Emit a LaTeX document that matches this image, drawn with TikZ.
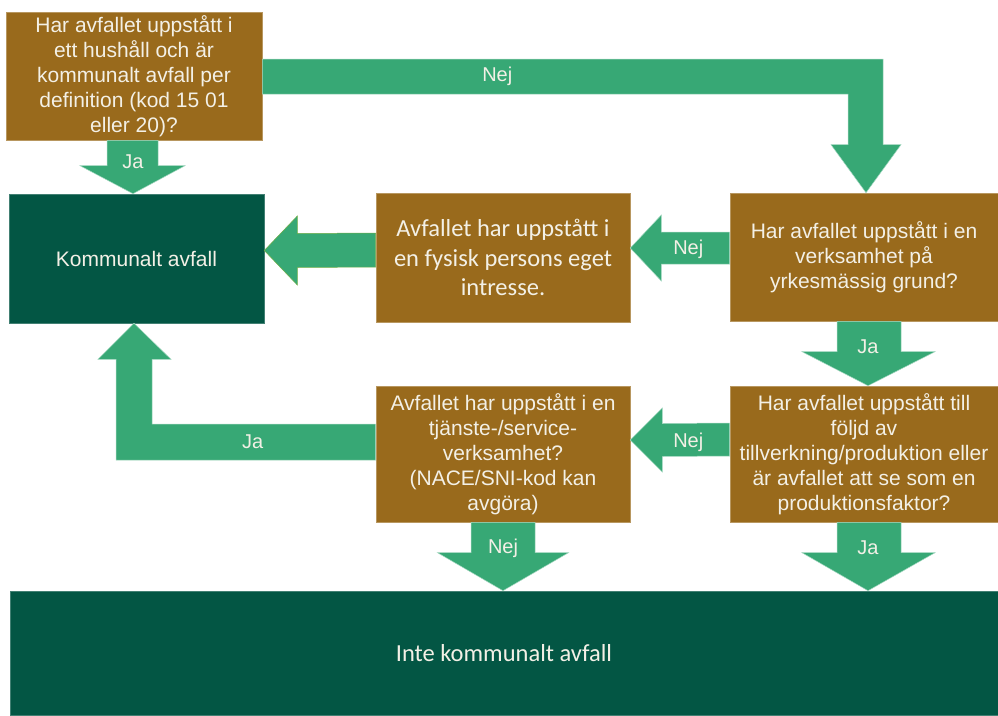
\documentclass[tikz,border=0pt]{standalone}
\usepackage{fontspec}
\setmainfont{Liberation Sans}
\newfontfamily\calfont{Carlito}
\usetikzlibrary{calc}
\definecolor{boxbrown}{RGB}{153,106,28}
\definecolor{dkgreen}{RGB}{3,86,68}
\definecolor{argreen}{RGB}{55,168,117}
\definecolor{arline}{RGB}{112,173,71}
\definecolor{txt}{RGB}{243,240,230}
\begin{document}
\begin{tikzpicture}[x=1pt,y=-1pt,
  box/.style={fill=boxbrown, draw=boxbrown!70!white, line width=0.6pt, text=txt, align=center, inner sep=0pt, font=\fontsize{21}{25}\selectfont},
  calbox/.style={box, font=\calfont\fontsize{24.5}{29.5}\selectfont},
  endbox/.style={fill=dkgreen, draw=dkgreen!75!white, line width=0.6pt, text=txt, align=center, inner sep=0pt},
  blockarrow/.style={fill=argreen, draw=argreen!45!white, line width=0.5pt},
  lbl/.style={text=txt, font=\fontsize{20}{24}\selectfont, inner sep=0pt}]
\useasboundingbox (0,0) rectangle (998,715);

% boxes
\node[box, minimum width=256pt, minimum height=128pt] (q1) at (134,76)
  {Har avfallet uppstått i\\ett hushåll och är\\kommunalt avfall per\\definition (kod 15 01\\eller 20)?};
\node[endbox, minimum width=255pt, minimum height=129pt, font=\fontsize{21}{25}\selectfont] (kom) at (136.5,258.5)
  {Kommunalt avfall};
\node[calbox, minimum width=254pt, minimum height=129pt] (fys) at (503,257.5)
  {Avfallet har uppstått i\\en fysisk persons eget\\intresse.};
\node[box, minimum width=268pt, minimum height=128pt] (q2) at (864,257)
  {Har avfallet uppstått i en\\verksamhet på\\yrkesmässig grund?};
\node[box, minimum width=268pt, minimum height=136pt] (q3) at (864,454)
  {Har avfallet uppstått till\\följd av\\tillverkning/produktion eller\\är avfallet att se som en\\produktionsfaktor?};
\node[box, minimum width=254pt, minimum height=136pt] (svc) at (503,454)
  {Avfallet har uppstått i en\\tjänste-/service-\\verksamhet?\\(NACE/SNI-kod kan\\avgöra)};
\node[endbox, minimum width=988pt, minimum height=124pt, font=\calfont\fontsize{24.5}{29.5}\selectfont] (inte) at (504,653)
  {Inte kommunalt avfall};

% arrow 1: q1 -> kom (Ja)
\coordinate (a1s) at ($(q1.south)+(-1,0)$);
\coordinate (a1t) at ($(kom.north)+(-3.5,0)$);
\draw[blockarrow] ($(a1s)+(-26,0)$) -- ($(a1s)+(25,0)$) -- ($(a1t)+(25,-28)$) -- ($(a1t)+(52,-28)$) -- (a1t) -- ($(a1t)+(-53,-28)$) -- ($(a1t)+(-26,-28)$) -- cycle;
\node[lbl] (l1) at ($(a1s)+(0,21)$) {Ja};

% arrow 2: q1 -> q2 (Nej)
\coordinate (a2a) at ($(q1.east)+(0,-17)$);
\coordinate (a2b) at ($(q1.east)+(0,18)$);
\coordinate (a2t) at ($(q2.north)+(2,0)$);
\draw[blockarrow] (a2a) -- ($(a2a -| a2t)+(17,0)$) -- ($(a2t)+(17,-48)$) -- ($(a2t)+(35,-48)$) -- (a2t) -- ($(a2t)+(-35,-48)$) -- ($(a2t)+(-18,-48)$) -- ($(a2b -| a2t)+(-18,0)$) -- (a2b) -- cycle;
\node[lbl] (l2) at ($(q1.east)+(235,0)$) {Nej};

% arrow 3: fys -> kom
\coordinate (a3s) at ($(fys.west)+(0,-7.5)$);
\coordinate (a3t) at ($(kom.east)+(0,-8)$);
\draw[blockarrow, draw=arline] ($(a3s)+(0,-17)$) -- ($(a3t)+(33,-17)$) -- ($(a3t)+(33,-34.5)$) -- (a3t) -- ($(a3t)+(33,34.5)$) -- ($(a3t)+(33,17)$) -- ($(a3s)+(0,17)$) -- cycle;

% arrow 4: q2 -> fys (Nej)
\coordinate (a4s) at ($(q2.west)+(0,-9)$);
\coordinate (a4t) at ($(fys.east)+(0,-9.5)$);
\draw[blockarrow] ($(a4s)+(0,-16)$) -- ($(a4t)+(31,-16)$) -- ($(a4t)+(31,-33)$) -- (a4t) -- ($(a4t)+(31,33)$) -- ($(a4t)+(31,16)$) -- ($(a4s)+(0,16)$) -- cycle;
\node[lbl] (l4) at ($(a4t)+(58,1)$) {Nej};

% arrow 5: q2 -> q3 (Ja)
\coordinate (a5s) at ($(q2.south)+(5,0)$);
\coordinate (a5t) at ($(q3.north)+(4,0)$);
\draw[blockarrow] ($(a5s)+(-32,0)$) -- ($(a5s)+(32,0)$) -- ($(a5t)+(33,-34)$) -- ($(a5t)+(67,-34)$) -- (a5t) -- ($(a5t)+(-66,-34)$) -- ($(a5t)+(-31,-34)$) -- cycle;
\node[lbl] (l5) at ($(a5s)+(-1,25)$) {Ja};

% arrow 6: q3 -> svc (Nej)
\coordinate (a6s) at ($(q3.west)+(0,-14.5)$);
\coordinate (a6t) at ($(svc.east)+(0,-14)$);
\draw[blockarrow] ($(a6s)+(0,-16.5)$) -- ($(a6t)+(32,-16.5)$) -- ($(a6t)+(32,-32)$) -- (a6t) -- ($(a6t)+(32,32)$) -- ($(a6t)+(32,16.5)$) -- ($(a6s)+(0,16.5)$) -- cycle;
\node[lbl] (l6) at ($(a6t)+(58,2)$) {Nej};

% arrow 7: q3 -> inte (Ja)
\coordinate (a7s) at ($(q3.south)+(5,0)$);
\coordinate (a7t) at ($(inte.north -| q3.south)+(4,0)$);
\draw[blockarrow] ($(a7s)+(-32,0)$) -- ($(a7s)+(32,0)$) -- ($(a7t)+(33,-38)$) -- ($(a7t)+(67,-38)$) -- (a7t) -- ($(a7t)+(-66,-38)$) -- ($(a7t)+(-31,-38)$) -- cycle;
\node[lbl] (l7) at ($(a7s)+(-1,25)$) {Ja};

% arrow 8: svc -> inte (Nej)
\coordinate (a8s) at (svc.south);
\coordinate (a8t) at (inte.north -| svc.south);
\draw[blockarrow] ($(a8s)+(-32,0)$) -- ($(a8s)+(32,0)$) -- ($(a8t)+(32,-38)$) -- ($(a8t)+(65.5,-38)$) -- (a8t) -- ($(a8t)+(-65.5,-38)$) -- ($(a8t)+(-32,-38)$) -- cycle;
\node[lbl] (l8) at ($(a8s)+(0,26)$) {Nej};

% arrow 9: svc -> kom (Ja)
\coordinate (a9a) at ($(svc.west)+(0,-30)$);
\coordinate (a9b) at ($(svc.west)+(0,6)$);
\coordinate (a9t) at ($(kom.south)+(-2.5,0)$);
\draw[blockarrow] (a9a) -- ($(a9a -| a9t)+(18,0)$) -- ($(a9t)+(18,36)$) -- ($(a9t)+(37,36)$) -- (a9t) -- ($(a9t)+(-36,36)$) -- ($(a9t)+(-18,36)$) -- ($(a9b -| a9t)+(-18,0)$) -- (a9b) -- cycle;
\node[lbl] (l9) at ($(svc.west)+(-123,-12)$) {Ja};
\end{tikzpicture}
\end{document}
